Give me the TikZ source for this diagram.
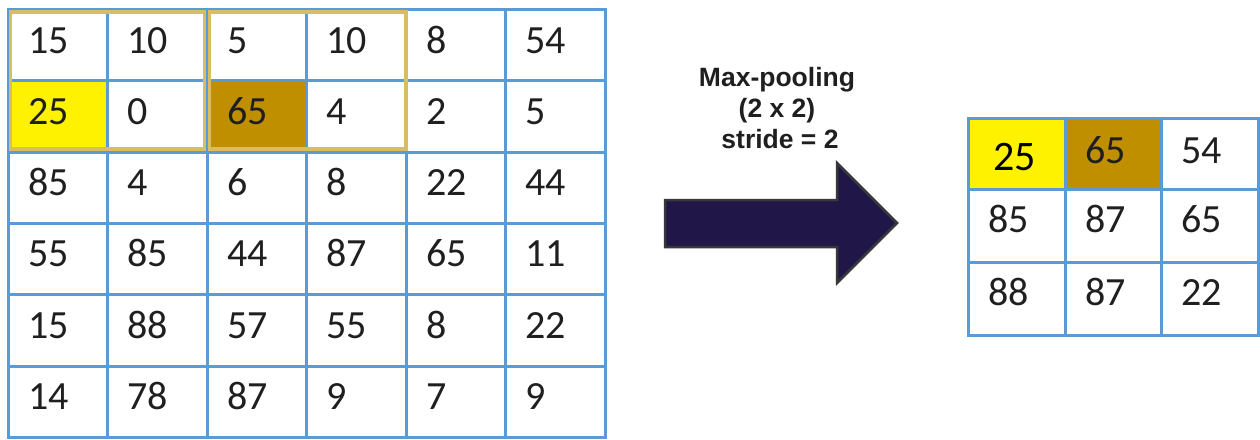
\documentclass[tikz,border=0pt]{standalone}
\usepackage{fontspec}
\setmainfont{Carlito}
\newfontfamily\labelfont{Liberation Sans}
\definecolor{gridblue}{RGB}{91,155,213}
\definecolor{poolgold}{RGB}{218,188,100}
\definecolor{maxbrown}{RGB}{191,143,0}
\definecolor{arrowfill}{RGB}{33,22,72}
\definecolor{arrowedge}{RGB}{55,55,60}
\begin{document}
\begin{tikzpicture}[x=1pt,y=-1pt,
  num/.style={anchor=base west,inner sep=0pt,text=black!88,font=\fontsize{40}{48}\selectfont},
  bignum/.style={anchor=base west,inner sep=0pt,text=black,font=\fontsize{42}{50}\selectfont},
  gl/.style={draw=gridblue,line width=3pt,line cap=rect},
  poolbox/.style={draw=poolgold,line width=3.8pt},
  lbl/.style={anchor=base,inner sep=0pt,text=black!88,font=\labelfont\bfseries\fontsize{26.5}{30}\selectfont}]
\useasboundingbox (0,0) rectangle (1260,439);
% ---------- input 6x6 grid ----------
\fill[yellow] (8,80.8) rectangle (107.5,152.2);
\fill[maxbrown] (207,80.8) rectangle (306.5,152.2);
\foreach \i in {0,...,6} {
  \draw[gl] ({8+99.5*\i},9.5) -- ({8+99.5*\i},437.5);
  \draw[gl] (8,{9.5+71.33*\i}) -- (605,{9.5+71.33*\i});
}
\draw[poolbox] (10.5,12) rectangle (204.5,149);
\draw[poolbox] (209.5,12) rectangle (406,149);
\foreach \row [count=\r from 0] in {{15,10,5,10,8,54},{25,0,65,4,2,5},{85,4,6,8,22,44},{55,85,44,87,65,11},{15,88,57,55,8,22},{14,78,87,9,7,9}} {
  \foreach \v [count=\c from 0] in \row {
    \node[num] (L-\r-\c) at ({28+99.5*\c},{53+71.33*\r}) {\v};
  }
}
% ---------- label and arrow ----------
\node[lbl] (lbl1) at (777,86.7) {Max-pooling};
\node[lbl] (lbl2) at (777,117) {(2 x 2)};
\node[lbl] (lbl3) at (780,148) {stride = 2};
\draw[arrowedge,fill=arrowfill,line width=2.5pt,line join=miter]
  (665,200) -- (837,200) -- (837,163) -- (897,223) -- (837,283) -- (837,247) -- (665,247) -- cycle;
% ---------- output 3x3 grid ----------
\fill[yellow] (968,118) rectangle (1065,189.5);
\fill[maxbrown] (1065,118) rectangle (1161.5,189.5);
\foreach \x in {968,1065,1161.5,1258} { \draw[gl] (\x,118) -- (\x,335); }
\foreach \y in {118,189.5,262,335} { \draw[gl] (968,\y) -- (1258,\y); }
\node[bignum] (R-0-0) at (993,170) {25};
\node[num] (R-0-1) at (1085,163) {65};
\node[num] (R-0-2) at (1181.5,163) {54};
\node[num] (R-1-0) at (988,232.5) {85};
\node[num] (R-1-1) at (1085,232.5) {87};
\node[num] (R-1-2) at (1181.5,232.5) {65};
\node[num] (R-2-0) at (988,305) {88};
\node[num] (R-2-1) at (1085,305) {87};
\node[num] (R-2-2) at (1181.5,305) {22};
\end{tikzpicture}
\end{document}
